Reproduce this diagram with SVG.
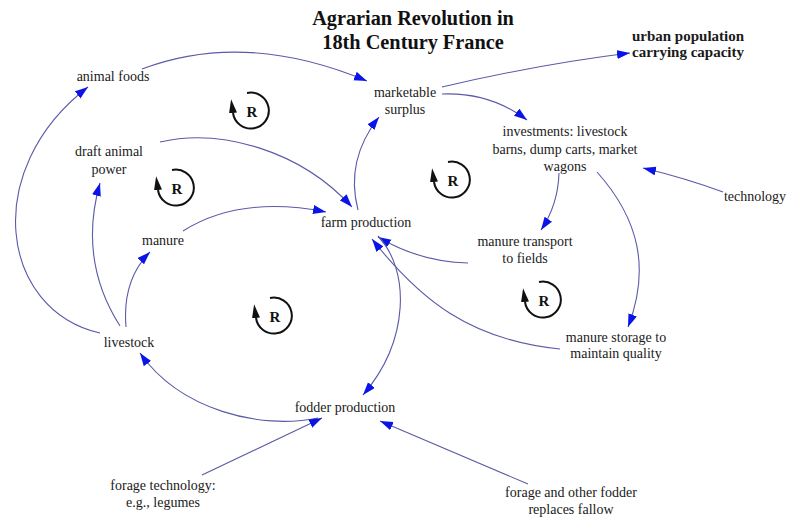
<svg xmlns="http://www.w3.org/2000/svg" width="792" height="520" viewBox="0 0 792 520">
<style>
.t{font-family:"Liberation Serif","Times New Roman",serif;font-size:14px;fill:#1a1a1a;text-anchor:middle}
.b{font-weight:bold;font-size:15px}
.title{font-family:"Liberation Serif","Times New Roman",serif;font-size:20.3px;font-weight:bold;fill:#111;text-anchor:middle}
.c{fill:none;stroke:#5a5aa8;stroke-width:1.1;marker-end:url(#ah)}
.loop{fill:none;stroke:#111;stroke-width:2;marker-end:url(#lh)}
.r{font-family:"Liberation Serif","Times New Roman",serif;font-size:15px;font-weight:bold;fill:#111;text-anchor:middle}
</style>
<defs>
<marker id="ah" markerUnits="userSpaceOnUse" markerWidth="14" markerHeight="10" refX="13" refY="4.5" orient="auto">
<path d="M0,0 L13,4.5 L0,9 z" fill="#0a14e6"/>
</marker>
<marker id="lh" markerUnits="userSpaceOnUse" markerWidth="15" markerHeight="9" refX="0" refY="4" orient="auto">
<path d="M0,0 L14,4 L0,8 z" fill="#111"/>
</marker>
</defs>
<rect width="792" height="520" fill="#fff"/>
<text class="title" x="413" y="25">Agrarian Revolution in</text>
<text class="title" x="413" y="49">18th Century France</text>

<g id="connectors">
<path class="c" d="M142,69 Q245,30 367,81"/>
<path class="c" d="M100,333 C0,310 -20,170 88,87"/>
<path class="c" d="M120,326 Q78,260 100,183"/>
<path class="c" d="M126,327 Q122,280 150,252"/>
<path class="c" d="M183,231 Q240,195 326,212"/>
<path class="c" d="M160,142 C220,128 300,150 352,207"/>
<path class="c" d="M358,210 Q345,160 379,117"/>
<path class="c" d="M442,87 Q540,64 630,53"/>
<path class="c" d="M442,94 Q490,92 527,120"/>
<path class="c" d="M723,192 Q685,178 643,168"/>
<path class="c" d="M559,173 Q558,205 541,230"/>
<path class="c" d="M597,172 C640,220 650,270 628,327"/>
<path class="c" d="M468,263 Q420,262 378,237"/>
<path class="c" d="M560,349 C470,340 420,300 372,239"/>
<path class="c" d="M378,236 C410,270 410,340 363,395"/>
<path class="c" d="M318,418 C260,430 180,410 140,353"/>
<path class="c" d="M202,475 L322,418"/>
<path class="c" d="M528,484 L380,421"/>
</g>

<g id="loops">
<g id="loop1"><path class="loop" d="M247,93 A18,18 0 1 1 233,113"/><text class="r" x="252" y="117">R</text></g>
<g id="loop2"><path class="loop" d="M172,170 A18,18 0 1 1 158,190"/><text class="r" x="177" y="194">R</text></g>
<g id="loop3"><path class="loop" d="M448,162 A18,18 0 1 1 434,182"/><text class="r" x="453" y="186">R</text></g>
<g id="loop4"><path class="loop" d="M539,282 A18,18 0 1 1 525,302"/><text class="r" x="544" y="306">R</text></g>
<g id="loop5"><path class="loop" d="M270,298 A18,18 0 1 1 256,318"/><text class="r" x="275" y="322">R</text></g>
</g>

<g id="n-animal-foods"><text class="t" x="113" y="81">animal foods</text></g>
<g id="n-marketable-surplus"><text class="t" x="405" y="97">marketable</text><text class="t" x="405" y="114">surplus</text></g>
<g id="n-urban"><text class="t b" x="688" y="41">urban population</text><text class="t b" x="688" y="57">carrying capacity</text></g>
<g id="n-investments"><text class="t" x="565" y="136">investments: livestock</text><text class="t" x="565" y="154">barns, dump carts, market</text><text class="t" x="565" y="171">wagons</text></g>
<g id="n-technology"><text class="t" x="755" y="201">technology</text></g>
<g id="n-draft"><text class="t" x="109" y="156">draft animal</text><text class="t" x="109" y="174">power</text></g>
<g id="n-farm"><text class="t" x="366" y="227">farm production</text></g>
<g id="n-manure"><text class="t" x="163" y="245">manure</text></g>
<g id="n-transport"><text class="t" x="525" y="246">manure transport</text><text class="t" x="525" y="263">to fields</text></g>
<g id="n-livestock"><text class="t" x="129" y="347">livestock</text></g>
<g id="n-storage"><text class="t" x="616" y="342">manure storage to</text><text class="t" x="616" y="358">maintain quality</text></g>
<g id="n-fodder"><text class="t" x="345" y="412">fodder production</text></g>
<g id="n-forage-tech"><text class="t" x="163" y="490">forage technology:</text><text class="t" x="163" y="507">e.g., legumes</text></g>
<g id="n-forage-fallow"><text class="t" x="571" y="497">forage and other fodder</text><text class="t" x="571" y="514">replaces fallow</text></g>
</svg>
